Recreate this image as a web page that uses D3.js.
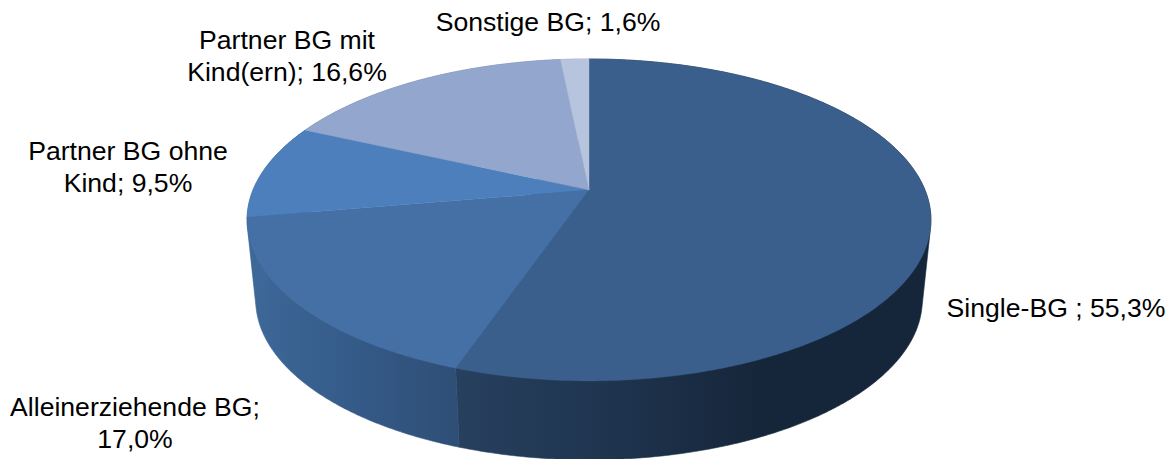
<!DOCTYPE html>
<html>
<head>
<meta charset="utf-8">
<style>
  html, body { margin: 0; padding: 0; background: #fff; overflow: hidden; }
  text { font-family: "Liberation Sans", Arial, sans-serif; font-size: 26.6px; fill: #000; }
</style>
<script src="https://cdn.jsdelivr.net/npm/d3@7"></script>
</head>
<body>
<div id="chart"></div>
<script>
const categories = ["Single-BG ", "Alleinerziehende BG", "Partner BG ohne Kind", "Partner BG mit Kind(ern)", "Sonstige BG"];
const values = [55.3, 17.0, 9.5, 16.6, 1.6];
const firstLines = [null, "Alleinerziehende BG;", "Partner BG ohne", "Partner BG mit", null];

const topColors = ["#3b5f8c", "#4470a5", "#4c7fbc", "#92a6ce", "#b7c4de"];
const sideColors = [
  ["#27405e", "#1f3550", "#16263a"],
  ["#3d6898", "#355b89", "#2e4e75"],
  ["#3d6898", "#3d6898", "#3d6898"],
  ["#6c7d9c", "#6c7d9c", "#6c7d9c"],
  ["#8a96ac", "#8a96ac", "#8a96ac"]
];
const gradientStops = [[458, 600, 760], [250, 350, 458], [250, 300, 350], [250, 300, 350], [250, 300, 350]];
const labelAnchors = [[1056, 317], [135, 416], [128, 160], [287, 49], [548, 31]];

const width = 1175, height = 459, lineHeight = 31.5;

// the disc is a circle seen in perspective, so the apex is not the ellipse centre
const upper = { cx: 589, cy: 190, a: 336, b: 155.4, k: 0.186 };
const lower = { cx: 589, cy: 270, a: 327.5, b: 154.5, k: 0.186 };

const project = (p, angle) => {
  const u = Math.sin(angle), v = -Math.cos(angle);
  const w = 1 - p.k * v;
  return [p.cx + p.a * u / w, p.cy + p.b * v / w];
};

const arcPoints = (p, a0, a1) => {
  const n = Math.max(2, Math.ceil((a1 - a0) * 120));
  return d3.range(n + 1).map(i => project(p, a0 + (a1 - a0) * i / n));
};

const slices = d3.pie().sort(null).value(d => d)(values);
const line = d3.line();

const svg = d3.select("#chart").append("svg")
  .attr("width", width)
  .attr("height", height);

const defs = svg.append("defs");
slices.forEach((d, i) => {
  const grad = defs.append("linearGradient")
    .attr("id", "side" + i)
    .attr("gradientUnits", "userSpaceOnUse")
    .attr("x1", gradientStops[i][0]).attr("y1", 0)
    .attr("x2", gradientStops[i][2]).attr("y2", 0);
  const span = gradientStops[i][2] - gradientStops[i][0];
  sideColors[i].forEach((c, j) => {
    grad.append("stop")
      .attr("offset", (gradientStops[i][j] - gradientStops[i][0]) / span)
      .attr("stop-color", c);
  });
});

// side walls first, the top face covers whatever is behind it
// hull so the silhouette runs straight between the two rims
svg.append("g").selectAll("path")
  .data(slices)
  .enter().append("path")
  .attr("fill", (d, i) => "url(#side" + i + ")")
  .attr("stroke", (d, i) => "url(#side" + i + ")")
  .attr("stroke-width", 0.6)
  .attr("d", d => line(d3.polygonHull(arcPoints(upper, d.startAngle, d.endAngle)
    .concat(arcPoints(lower, d.startAngle, d.endAngle)))) + "Z");

svg.append("g").selectAll("path")
  .data(slices)
  .enter().append("path")
  .attr("fill", (d, i) => topColors[i])
  .attr("stroke", (d, i) => topColors[i])
  .attr("stroke-width", 0.4)
  .attr("d", d => line([[upper.cx, upper.cy]].concat(arcPoints(upper, d.startAngle, d.endAngle))) + "Z");

const fmt = v => v.toFixed(1).replace(".", ",") + "%";

const labels = svg.append("g").selectAll("text")
  .data(categories)
  .enter().append("text")
  .attr("text-anchor", "middle")
  .attr("transform", (d, i) => "translate(" + labelAnchors[i] + ")");

labels.each(function(d, i) {
  const full = d + "; " + fmt(values[i]);
  const first = firstLines[i];
  const lines = first ? [first, full.slice(first.length).trim()] : [full];
  d3.select(this).selectAll("tspan")
    .data(lines)
    .enter().append("tspan")
    .attr("x", 0)
    .attr("y", (l, j) => j * lineHeight)
    .text(l => l);
});
</script>
</body>
</html>
